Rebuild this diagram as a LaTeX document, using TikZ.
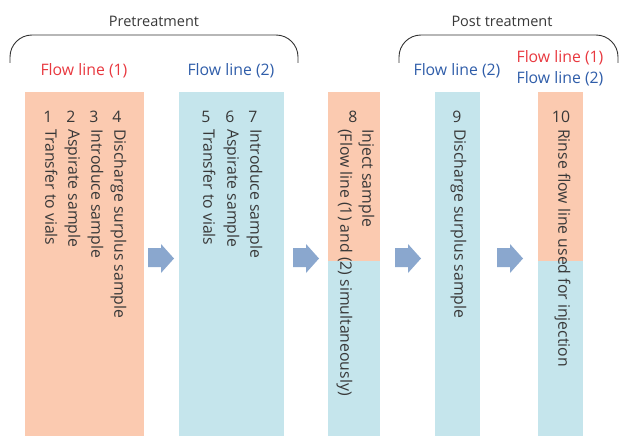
\documentclass[tikz,border=0pt]{standalone}
\usepackage{fontspec}
\setmainfont{Open Sans}
\usetikzlibrary{positioning}

\definecolor{stepOrange}{HTML}{FBCAB0}
\definecolor{stepBlue}{HTML}{C5E5EC}
\definecolor{lineRed}{HTML}{E8383F}
\definecolor{lineBlue}{HTML}{2F5DA9}
\definecolor{arrowBlue}{HTML}{8AA7CE}
\definecolor{textGrey}{HTML}{383838}

\tikzset{
  stepfont/.style={font=\fontsize{15.8}{18}\selectfont},
  steptext/.style={stepfont, rotate=-90, anchor=west, inner sep=0pt,
    text height=0.72em, text depth=0.2em, text=textGrey},
  stepnum/.style={stepfont, inner sep=0pt, text=textGrey},
  flowred/.style={stepfont, inner sep=0pt, text=lineRed},
  flowblue/.style={stepfont, inner sep=0pt, text=lineBlue},
  phase/.style={font=\fontsize{14.5}{17}\selectfont, inner sep=0pt, text=textGrey},
  brace/.style={draw=black!80, line width=0.9pt, rounded corners=22pt},
}

\begin{document}
\begin{tikzpicture}[x=1pt, y=-1pt]
    \useasboundingbox (0,0) rectangle (621,436);

    % columns
    \fill[stepOrange] (25,92) rectangle (144,436);
    \fill[stepBlue] (179,92) rectangle (284,436);
    \fill[stepOrange] (328,92) rectangle (380,261);
    \fill[stepBlue] (328,261) rectangle (380,436);
    \fill[stepBlue] (435,92) rectangle (480,436);
    \fill[stepOrange] (538,92) rectangle (583,261);
    \fill[stepBlue] (538,261) rectangle (583,436);

    % braces
    \draw[brace] (10,63) -- (10,35) -- (298,35) -- (298,63);
    \draw[brace] (399,63) -- (399,35) -- (618,35) -- (618,63);
    \node[phase] (pre) at (154,21) {Pretreatment};
    \node[phase] (post) at (502,21) {Post treatment};

    % flow line labels
    \node[flowred] (fl1) at (84,71) {Flow line (1)};
    \node[flowblue] (fl2) at (231,71) {Flow line (2)};
    \node[flowblue] (fl3) at (457,71) {Flow line (2)};
    \node[flowred] (fl4) at (560,58) {Flow line (1)};
    \node[flowblue] (fl5) at (560,79) {Flow line (2)};

    % steps 1-4
    \node[stepnum] (n1) at (48,117) {1};
    \node[stepnum] (n2) at (71,117) {2};
    \node[stepnum] (n3) at (94,117) {3};
    \node[stepnum] (n4) at (117,117) {4};
    \node[steptext] (s1) at (48,129) {Transfer to vials};
    \node[steptext] (s2) at (71,129) {Aspirate sample};
    \node[steptext] (s3) at (94,129) {Introduce sample};
    \node[steptext] (s4) at (117,129) {Discharge surplus sample};

    % steps 5-7
    \node[stepnum] (n5) at (206,117) {5};
    \node[stepnum] (n6) at (230,117) {6};
    \node[stepnum] (n7) at (253,117) {7};
    \node[steptext] (s5) at (206,129) {Transfer to vials};
    \node[steptext] (s6) at (230,129) {Aspirate sample};
    \node[steptext] (s7) at (253,129) {Introduce sample};

    % step 8
    \node[stepnum] (n8) at (353,117) {8};
    \node[steptext] (s8) at (365,129) {Inject sample};
    \node[steptext] (s8b) at (343,129) {(Flow line (1) and (2) simultaneously)};

    % steps 9, 10
    \node[stepnum] (n9) at (457,117) {9};
    \node[steptext] (s9) at (457,129) {Discharge surplus sample};
    \node[stepnum] (n10) at (561,117) {10};
    \node[steptext] (s10) at (561,129) {Rinse flow line used for injection};

    % block arrows
    \foreach \ax in {148,293,395,497}
        \fill[arrowBlue] (\ax,248) -- (\ax+13,248) -- (\ax+13,244) -- (\ax+26,258.5)
            -- (\ax+13,273) -- (\ax+13,267) -- (\ax,267) -- cycle;
\end{tikzpicture}
\end{document}
